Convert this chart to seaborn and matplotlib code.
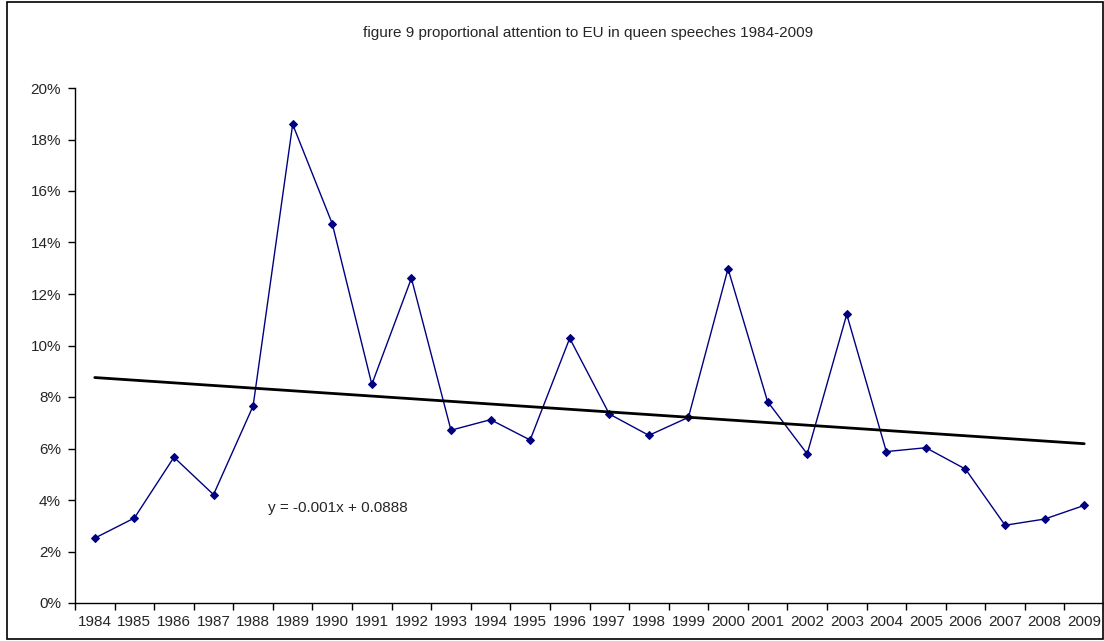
import numpy as np
import pandas as pd
import matplotlib
matplotlib.use("Agg")
import matplotlib.pyplot as plt
import matplotlib.patches as patches
from matplotlib.ticker import PercentFormatter, FixedLocator
import seaborn as sns

# Data
years = [1984, 1985, 1986, 1987, 1988, 1989, 1990, 1991, 1992, 1993, 1994, 1995, 1996,
         1997, 1998, 1999, 2000, 2001, 2002, 2003, 2004, 2005, 2006, 2007, 2008, 2009]
attention = [0.0252, 0.0330, 0.0566, 0.0421, 0.0765, 0.1859, 0.1473, 0.0849, 0.1261, 0.0671,
             0.0712, 0.0633, 0.1028, 0.0734, 0.0651, 0.0721, 0.1298, 0.0782, 0.0579, 0.1121,
             0.0588, 0.0603, 0.0520, 0.0302, 0.0326, 0.0379]
title = "figure 9 proportional attention to EU in queen speeches 1984-2009"
equation = "y = -0.001x + 0.0888"

df = pd.DataFrame({"year": years, "share": attention})
df["pos"] = np.arange(len(df))

sns.set_style("white")
plt.rcParams["font.family"] = ["Liberation Sans", "DejaVu Sans"]
plt.rcParams["font.size"] = 11

fig = plt.figure(figsize=(11.04, 6.41), dpi=100)
ax = fig.add_axes([75 / 1104, 1 - 603 / 641, 1029 / 1104, 515 / 641])

# series
sns.lineplot(data=df, x="pos", y="share", ax=ax, color="#000080", lw=1,
             marker="D", markersize=4.5, markeredgecolor="#000080")
# linear trendline
sns.regplot(data=df, x="pos", y="share", ax=ax, scatter=False, ci=None,
            color="black", line_kws={"lw": 2})

ax.set_xlim(-0.5, len(df) - 0.5)
ax.set_ylim(0, 0.20)
ax.set_yticks(np.arange(0, 0.201, 0.02))
ax.yaxis.set_major_formatter(PercentFormatter(1.0, decimals=0))

# ticks between categories, labels centred under categories
ax.xaxis.set_major_locator(FixedLocator(np.arange(-0.5, len(df), 1.0)))
ax.xaxis.set_minor_locator(FixedLocator(df["pos"]))
ax.set_xticklabels([])
ax.set_xticklabels([str(y) for y in years], minor=True)
ax.tick_params(axis="x", which="major", direction="out", length=5, width=1, color="black")
ax.tick_params(axis="x", which="minor", length=0, pad=9, labelsize=11)
ax.tick_params(axis="y", direction="out", length=5, width=1, color="black", pad=5, labelsize=11)
ax.tick_params(left=True, bottom=True)

ax.set_xlabel("")
ax.set_ylabel("")
for side in ["top", "right"]:
    ax.spines[side].set_visible(False)
for side in ["left", "bottom"]:
    ax.spines[side].set_color("black")
    ax.spines[side].set_linewidth(1)

ax.text(0.1876, 0.1845, equation, transform=ax.transAxes, ha="left", va="center", fontsize=11)

fig.text(588 / 1104, 1 - 33 / 641, title, ha="center", va="center", fontsize=11)

# chart area border
fig.patches.append(patches.Rectangle((7 / 1104, 1 - 639 / 641), 1096 / 1104, 637 / 641,
                                     transform=fig.transFigure, fill=False,
                                     edgecolor="black", lw=1.2, zorder=10))

fig.savefig("out.png", dpi=100)
